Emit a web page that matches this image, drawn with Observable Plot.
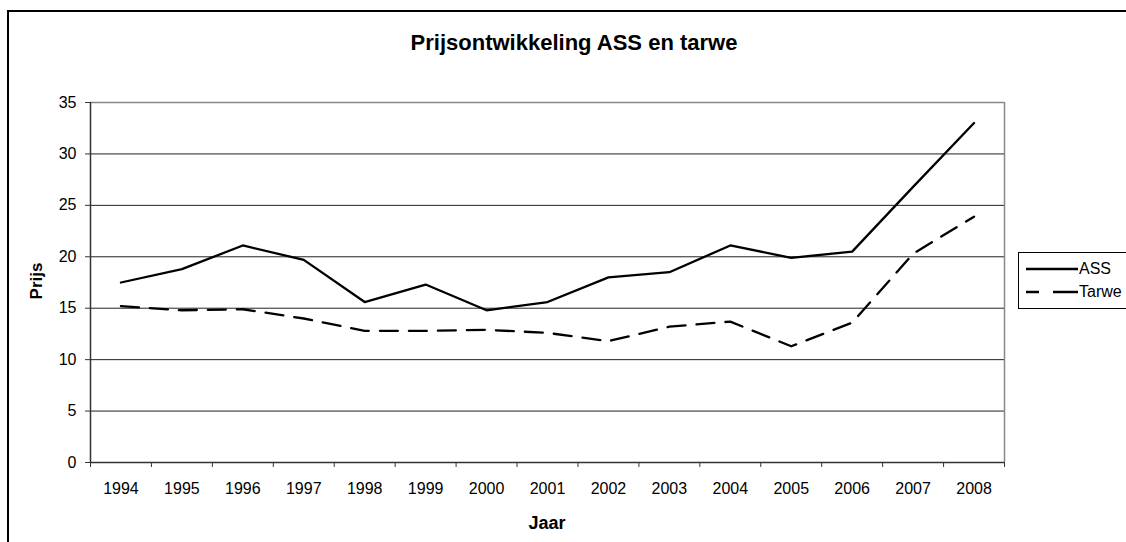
<!DOCTYPE html>
<html>
<head>
<meta charset="utf-8">
<script src="https://cdn.jsdelivr.net/npm/d3@7"></script>
<script src="https://cdn.jsdelivr.net/npm/@observablehq/plot@0.6"></script>
<style>
  html, body { margin: 0; padding: 0; background: #fff; overflow: hidden; }
  body { font-family: "Liberation Sans", Arial, sans-serif; color: #000; }
  #chart { position: relative; width: 1126px; height: 542px; }
  #frame { position: absolute; left: 7px; top: 10px; width: 1200px; height: 600px;
           border-left: 2px solid #000; border-top: 2px solid #000; box-sizing: border-box; }
  #plot { position: absolute; left: 0; top: 0; }
  .title { position: absolute; left: 374px; width: 400px; top: 30px; text-align: center;
           font-weight: bold; font-size: 22px; }
  .ylab { position: absolute; left: 37px; top: 281px; transform: translate(-50%, -50%) rotate(-90deg);
          font-weight: bold; font-size: 17px; white-space: nowrap; }
  .xlab { position: absolute; left: 547px; top: 513px; transform: translateX(-50%);
          font-weight: bold; font-size: 18px; }
  #legend { position: absolute; left: 1018px; top: 252px; width: 140px; height: 57px;
            border: 1px solid #000; box-sizing: border-box; background: #fff; }
  #legend .row { position: absolute; left: 6px; height: 20px; display: flex; align-items: center;
                 font-size: 16px; }
  #legend svg { display: block; }
</style>
</head>
<body>
<div id="chart">
  <div id="frame"></div>
  <div id="plot"></div>
  <div class="title">Prijsontwikkeling ASS en tarwe</div>
  <div class="ylab">Prijs</div>
  <div class="xlab">Jaar</div>
  <div id="legend"></div>
</div>
<script>
// Jaren en prijzen per reeks
const years = [1994, 1995, 1996, 1997, 1998, 1999, 2000, 2001, 2002, 2003, 2004, 2005, 2006, 2007, 2008];
const ass   = [17.5, 18.8, 21.1, 19.7, 15.6, 17.3, 14.8, 15.6, 18.0, 18.5, 21.1, 19.9, 20.5, 26.8, 33.0];
const tarwe = [15.2, 14.8, 14.9, 14.0, 12.8, 12.8, 12.9, 12.6, 11.8, 13.2, 13.7, 11.3, 13.6, 20.3, 23.9];
const yTicks = [0, 5, 10, 15, 20, 25, 30, 35];
const seriesNames = ["ASS", "Tarwe"];

const dash = "18,11";

// Categorie-as: elk jaar krijgt een vak van 1 breed, met streepjes op de vakgrenzen
const bounds = [years[0] - 0.5, ...years.map(y => y + 0.5)];

const chart = Plot.plot({
  width: 1126,
  height: 542,
  marginLeft: 90,
  marginRight: 122,
  marginTop: 102,
  marginBottom: 80,
  style: {
    fontFamily: "'Liberation Sans', Arial, sans-serif",
    fontSize: "16px",
    color: "#000",
    background: "transparent",
    overflow: "visible"
  },
  x: { type: "linear", domain: [bounds[0], bounds[bounds.length - 1]] },
  y: { type: "linear", domain: [0, 35] },
  marks: [
    // horizontale rasterlijnen
    Plot.ruleY(yTicks.filter(v => v > 0 && v < 35), { stroke: "#222", strokeWidth: 1 }),
    // kader van het tekengebied (boven en rechts grijs)
    Plot.ruleY([35], { stroke: "#888", strokeWidth: 1.5 }),
    Plot.ruleX([bounds[bounds.length - 1]], { stroke: "#888", strokeWidth: 1.5 }),
    // assen
    Plot.ruleX([bounds[0]], { stroke: "#333", strokeWidth: 1.5 }),
    Plot.ruleY([0], { stroke: "#333", strokeWidth: 1.5 }),
    Plot.axisY({ ticks: yTicks, tickSize: 5, tickPadding: 9, tickFormat: d => String(d),
                 label: null, stroke: "#333" }),
    Plot.axisX({ ticks: bounds, tickSize: 5, tickFormat: () => "", label: null, stroke: "#333" }),
    Plot.axisX({ ticks: years, tickSize: 0, tickPadding: 20, tickFormat: d => String(d), label: null }),
    // reeksen
    Plot.line(tarwe, { x: (d, i) => years[i], y: d => d, stroke: "#000", strokeWidth: 2.3,
                       strokeDasharray: dash }),
    Plot.line(ass, { x: (d, i) => years[i], y: d => d, stroke: "#000", strokeWidth: 2.3 })
  ]
});
document.getElementById("plot").appendChild(chart);

// Legenda
const legend = d3.select("#legend");
seriesNames.forEach((name, i) => {
  const row = legend.append("div").attr("class", "row").style("top", (6 + i * 23) + "px");
  const svg = row.append("svg").attr("width", 54).attr("height", 20);
  svg.append("line").attr("x1", 1).attr("x2", 53).attr("y1", 10).attr("y2", 10)
    .attr("stroke", "#000").attr("stroke-width", 2.5)
    .attr("stroke-dasharray", i === 0 ? null : "13,14,26");
  row.append("span").text(name);
});
</script>
</body>
</html>
